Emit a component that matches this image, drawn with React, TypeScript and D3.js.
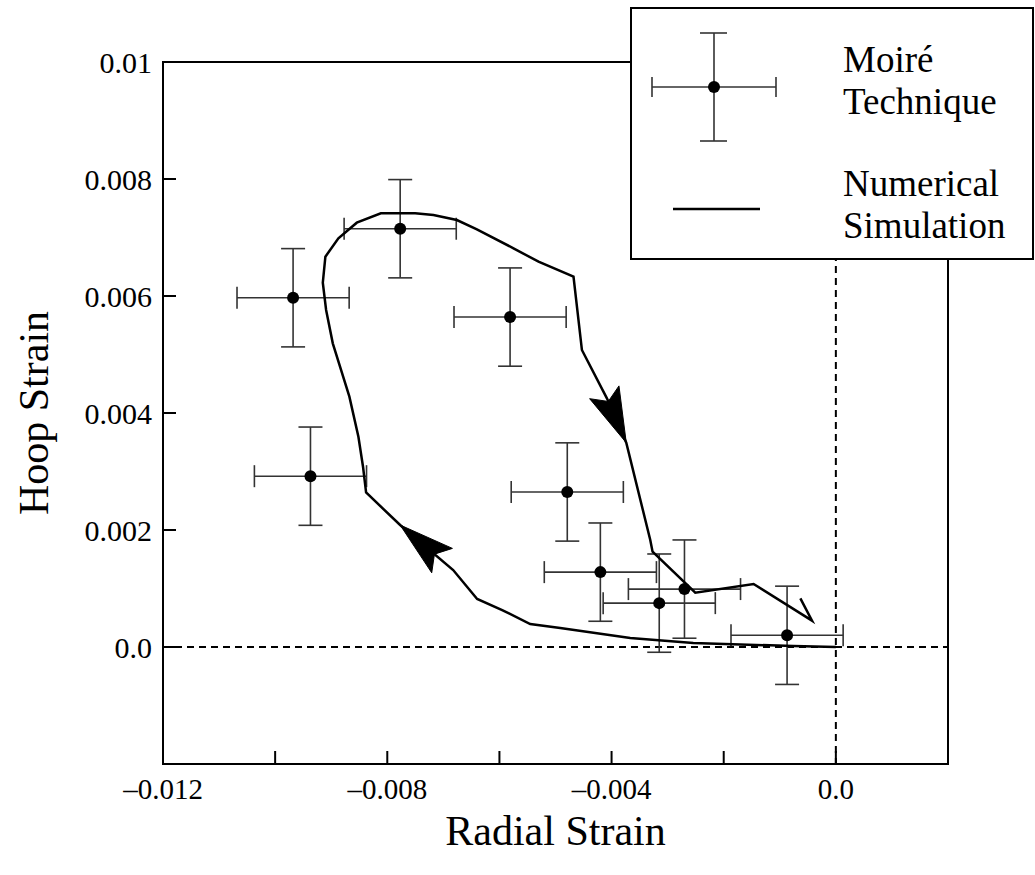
import React from "react";
import * as d3 from "d3";

// ---- Data ----
const radialStrain = [-0.00968, -0.00777, -0.00581, -0.00937, -0.00479, -0.0042, -0.00315, -0.0027, -0.00087];
const hoopStrain = [0.00597, 0.00715, 0.00564, 0.00292, 0.00265, 0.00128, 0.00075, 0.00099, 0.0002];
const radialErr = [0.001, 0.001, 0.001, 0.001, 0.001, 0.001, 0.001, 0.001, 0.001];
const hoopErr = [0.00084, 0.00084, 0.00084, 0.00084, 0.00084, 0.00084, 0.00084, 0.00084, 0.00084];

const simRadial = [
  0, -0.000758, -0.002543, -0.003667, -0.004916, -0.005451, -0.005951, -0.006397, -0.006825, -0.007771,
  -0.008378, -0.008432, -0.008515, -0.008676, -0.008972, -0.009091, -0.00915, -0.009104, -0.008872, -0.008544,
  -0.008115, -0.007503, -0.007177, -0.006759, -0.006402, -0.005749, -0.005303, -0.004679, -0.004529, -0.004083,
  -0.003738, -0.00331, -0.003269, -0.002507, -0.001467, -0.000425, -0.000633,
];
const simHoop = [
  0, 0.000017, 0.000068, 0.000154, 0.000325, 0.000393, 0.000632, 0.000821, 0.001316, 0.002085,
  0.002641, 0.003077, 0.003595, 0.004279, 0.005191, 0.005761, 0.006227, 0.006672, 0.006986, 0.007253,
  0.007414, 0.007414, 0.007385, 0.007299, 0.00714, 0.006815, 0.006586, 0.00633, 0.005077, 0.004251,
  0.003492, 0.001829, 0.001629, 0.000928, 0.001077, 0.00045, 0.000832,
];
const arrowVertices = [9, 30];

const xTickValues = [-0.012, -0.01, -0.008, -0.006, -0.004, -0.002, 0];
const xTickLabels = ["–0.012", "", "–0.008", "", "–0.004", "", "0.0"];
const yTickValues = [-0.002, 0, 0.002, 0.004, 0.006, 0.008, 0.01];
const yTickLabels = ["", "0.0", "0.002", "0.004", "0.006", "0.008", "0.01"];

const xTitle = "Radial Strain";
const yTitle = "Hoop Strain";
const legendLabels = [["Moiré", "Technique"], ["Numerical", "Simulation"]];

const W = 1035;
const H = 875;
const FONT = "'Liberation Serif', 'Times New Roman', serif";

export default function App() {
  const left = 163, right = 948, top = 62, bottom = 764;
  const x = d3.scaleLinear().domain([-0.012, 0.002]).range([left, right]);
  const y = d3.scaleLinear().domain([-0.002, 0.01]).range([bottom, top]);

  const simPts: [number, number][] = simRadial.map((r, i) => [r, simHoop[i]]);
  const line = d3.line<[number, number]>().x((d) => x(d[0])).y((d) => y(d[1]));

  const arrows = arrowVertices.map((idx) => {
    const tx = x(simRadial[idx]), ty = y(simHoop[idx]);
    const px = x(simRadial[idx - 1]), py = y(simHoop[idx - 1]);
    const dx = tx - px, dy = ty - py;
    const len = Math.hypot(dx, dy);
    const ux = dx / len, uy = dy / len;
    const L = 55, hw = 16, notch = 45;
    const bx = tx - ux * L, by = ty - uy * L;
    const nx = -uy, ny = ux;
    const pts = [
      [tx, ty],
      [bx + nx * hw, by + ny * hw],
      [tx - ux * notch, ty - uy * notch],
      [bx - nx * hw, by - ny * hw],
    ];
    return "M" + pts.map((p) => p.join(",")).join("L") + "Z";
  });

  const tickLen = 13;
  const capV = 12;
  const capH = 11;
  const ebColor = "#333";

  const legX = 631, legY = 8, legW = 402, legH = 251;

  return (
    <svg
      width={W}
      height={H}
      style={{ position: "absolute", left: 0, top: 0, background: "#fff" }}
      fontFamily={FONT}
    >
      <rect x={0} y={0} width={W} height={H} fill="#fff" />
      <line x1={left} x2={right} y1={y(0)} y2={y(0)} stroke="#000" strokeWidth={2} strokeDasharray="7,5" />
      <line x1={x(0)} x2={x(0)} y1={top} y2={bottom} stroke="#000" strokeWidth={2} strokeDasharray="7,5" />

      <rect x={left} y={top} width={right - left} height={bottom - top} fill="none" stroke="#000" strokeWidth={2} />

      {xTickValues.map((v, i) => (
        <g key={"xt" + i}>
          {i > 0 && <line x1={x(v)} x2={x(v)} y1={bottom} y2={bottom - tickLen} stroke="#000" strokeWidth={2} />}
          {xTickLabels[i] && (
            <text x={x(v)} y={bottom + 35} textAnchor="middle" fontSize={29}>
              {xTickLabels[i]}
            </text>
          )}
        </g>
      ))}
      {yTickValues.map((v, i) => (
        <g key={"yt" + i}>
          {i > 0 && i < yTickValues.length - 1 && (
            <line x1={left} x2={left + tickLen} y1={y(v)} y2={y(v)} stroke="#000" strokeWidth={2} />
          )}
          {yTickLabels[i] && (
            <text x={left - 11} y={y(v)} dy="0.35em" textAnchor="end" fontSize={30}>
              {yTickLabels[i]}
            </text>
          )}
        </g>
      ))}

      <text x={(left + right) / 2} y={845} textAnchor="middle" fontSize={42}>
        {xTitle}
      </text>
      <text
        transform={`translate(48,${(top + bottom) / 2}) rotate(-90)`}
        textAnchor="middle"
        fontSize={42}
      >
        {yTitle}
      </text>

      {radialStrain.map((r, i) => {
        const cx = x(r), cy = y(hoopStrain[i]);
        const x0 = x(r - radialErr[i]), x1 = x(r + radialErr[i]);
        const y0 = y(hoopStrain[i] + hoopErr[i]), y1 = y(hoopStrain[i] - hoopErr[i]);
        return (
          <g key={"eb" + i} stroke={ebColor} strokeWidth={1.6}>
            <line x1={x0} x2={x1} y1={cy} y2={cy} />
            <line x1={x0} x2={x0} y1={cy - capH} y2={cy + capH} />
            <line x1={x1} x2={x1} y1={cy - capH} y2={cy + capH} />
            <line x1={cx} x2={cx} y1={y0} y2={y1} />
            <line x1={cx - capV} x2={cx + capV} y1={y0} y2={y0} />
            <line x1={cx - capV} x2={cx + capV} y1={y1} y2={y1} />
          </g>
        );
      })}

      <path d={line(simPts) || ""} fill="none" stroke="#000" strokeWidth={2.5} strokeLinejoin="miter" />
      {arrows.map((d, i) => (
        <path key={"ar" + i} d={d} fill="#000" stroke="#000" strokeWidth={1} />
      ))}

      {radialStrain.map((r, i) => (
        <circle key={"pt" + i} cx={x(r)} cy={y(hoopStrain[i])} r={6} fill="#000" />
      ))}

      <rect x={legX} y={legY} width={legW} height={legH} fill="#fff" stroke="#000" strokeWidth={2} />
      <g stroke={ebColor} strokeWidth={1.6}>
        <line x1={652} x2={776} y1={87} y2={87} />
        <line x1={652} x2={652} y1={77} y2={97} />
        <line x1={776} x2={776} y1={77} y2={97} />
        <line x1={714} x2={714} y1={33} y2={141} />
        <line x1={700} x2={727} y1={33} y2={33} />
        <line x1={700} x2={727} y1={141} y2={141} />
      </g>
      <circle cx={714} cy={87} r={6} fill="#000" />
      <line x1={673} x2={760} y1={209} y2={209} stroke="#000" strokeWidth={2.5} />
      <text x={843} y={72} fontSize={37}>{legendLabels[0][0]}</text>
      <text x={843} y={114} fontSize={37}>{legendLabels[0][1]}</text>
      <text x={843} y={196} fontSize={37}>{legendLabels[1][0]}</text>
      <text x={843} y={238} fontSize={37}>{legendLabels[1][1]}</text>
    </svg>
  );
}
